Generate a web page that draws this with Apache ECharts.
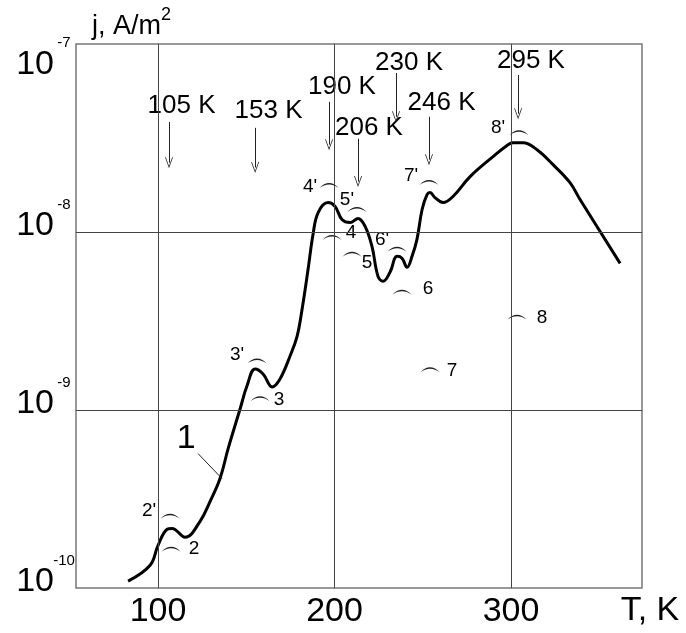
<!DOCTYPE html>
<html>
<head>
<meta charset="utf-8">
<script src="https://cdn.jsdelivr.net/npm/echarts@6/dist/echarts.min.js"></script>
<style>
html, body { margin: 0; padding: 0; background: #fff; }
#chart { width: 686px; height: 633px; }
</style>
</head>
<body>
<div id="chart"></div>
<script>
// curve 1: temperature T (K) and lg j (j in A/m2)
var tempK = [83.0, 95.5, 100, 105.1, 107.9, 115.3, 123.8, 129.5, 135.1, 139.7,
  146.5, 150.4, 155.0, 159.5, 164.6, 169.1, 174.8, 178.8, 181.6, 185.0,
  187.8, 190.7, 196.3, 200.3, 204.2, 208.8, 213.3, 217.3, 221.2, 224.6,
  227.5, 231.4, 235.4, 238.2, 241.1, 243.9, 246.7, 249.6, 252.4, 254.1,
  256.9, 261.5, 267.1, 276.8, 289.8, 298.3, 301.1, 306.8, 314.7, 323.8,
  333.4, 339.1, 361.8];
var logJ = [-9.961, -9.872, -9.760, -9.670, -9.665, -9.715, -9.625, -9.513, -9.385, -9.217,
  -8.993, -8.864, -8.769, -8.797, -8.870, -8.825, -8.696, -8.584, -8.433, -8.209,
  -8.013, -7.890, -7.834, -7.856, -7.929, -7.946, -7.923, -7.968, -8.080, -8.248,
  -8.276, -8.226, -8.136, -8.147, -8.198, -8.136, -8.041, -7.873, -7.789, -7.778,
  -7.806, -7.834, -7.800, -7.688, -7.576, -7.509, -7.498, -7.498, -7.537, -7.621,
  -7.722, -7.817, -8.176];

var xTicks = [100, 200, 300];
var yTicks = [-10, -9, -8, -7];

// peak temperatures with their arrows
var peakNames = ['105 K', '153 K', '190 K', '206 K', '230 K', '246 K', '295 K'];
var arrowX = [106.2, 155.0, 196.9, 213.3, 234.8, 253.5, 304.0];
var arrowTop = [-7.381, -7.414, -7.268, -7.475, -7.106, -7.352, -7.117];
var arrowEnd = [-7.610, -7.637, -7.509, -7.716, -7.352, -7.593, -7.335];
var nameX = [113.3, 162.6, 204.2, 219.5, 242.2, 260.6, 311.3];
var nameY = [-7.293, -7.319, -7.181, -7.414, -7.050, -7.274, -7.039];

// small arcs that mark the peaks, with their numbers
var markNames = ["2'", '2', "3'", '3', "4'", '4', "5'", '5', "6'", '6', "7'", '7', "8'", '8'];
var markX = [106.8, 107.4, 156.1, 157.8, 196.9, 198.6, 212.7, 209.9, 235.4, 238.2, 253.5, 254.1, 304.5, 303.4];
var markY = [-9.597, -9.782, -8.724, -8.937, -7.738, -8.030, -7.873, -8.125, -8.097, -8.338, -7.722, -8.774, -7.442, -8.478];
var markDx = [-21, 23, -20, 19, -19, 19, -10, 15, -15, 26, -18, 22, -21, 25];
var markDy = [-6, 0, -6, 1, 1, -5, -10, 8, -10, -3, -7, 1, -5, 1];

var FONT = '"Liberation Sans", Arial, sans-serif';
var arcPath = 'path://M0,10 C6,0 14,0 20,10 C14,3 6,3 0,10 Z';
var arrowHead = 'path://M5,0 L10,12 L9,12 L5,2.5 L1,12 L0,12 Z';

var curve = tempK.map(function (t, i) { return [t, logJ[i]]; });

var arrows = peakNames.map(function (n, i) {
  return [
    { coord: [arrowX[i], arrowTop[i]], symbol: 'none' },
    { coord: [arrowX[i], arrowEnd[i]], symbol: arrowHead, symbolSize: [8, 11] }
  ];
});
// leader line of the label "1"
arrows.push([
  { coord: [122.7, -9.245], symbol: 'none' },
  { coord: [136.3, -9.386], symbol: 'none' }
]);

var marks = markNames.map(function (n, i) {
  return {
    name: n,
    value: [markX[i], markY[i]],
    label: { offset: [markDx[i], markDy[i]] }
  };
});

var names = peakNames.map(function (n, i) {
  return { name: n, value: [nameX[i], nameY[i]] };
});
names.push({ name: '1', value: [115.9, -9.162], label: { fontSize: 34 } });

var grids = xTicks.map(function (v) { return { xAxis: v }; })
  .concat([{ yAxis: -9 }, { yAxis: -8 }]);

var isTick = function (v, list) {
  for (var i = 0; i < list.length; i++) {
    if (Math.abs(v - list[i]) < 1e-6) return true;
  }
  return false;
};

var chart = echarts.init(document.getElementById('chart'));
chart.setOption({
  animation: false,
  textStyle: { fontFamily: FONT, color: '#000' },
  grid: {
    left: 76, right: 44, top: 44, bottom: 45,
    show: true, borderColor: '#777', borderWidth: 1.5
  },
  xAxis: {
    type: 'value',
    min: 53.5,
    max: 374.2,
    splitNumber: 3,
    name: 'T, K',
    nameLocation: 'end',
    nameGap: 8,
    nameTextStyle: { fontSize: 34, color: '#000', align: 'center', verticalAlign: 'top', padding: [6, 0, 0, 0] },
    axisLine: { show: false },
    axisTick: { show: false },
    splitLine: { show: false },
    axisLabel: {
      fontSize: 34,
      color: '#000',
      margin: 7,
      formatter: function (v) { return isTick(v, xTicks) ? String(Math.round(v)) : ''; }
    }
  },
  yAxis: {
    type: 'value',
    min: -10,
    max: -6.943,
    interval: 1,
    name: '{a|j, A/m}{s|2}',
    nameLocation: 'end',
    nameGap: 4,
    nameTextStyle: {
      align: 'left',
      padding: [0, 0, 0, 16],
      rich: {
        a: { fontSize: 27, lineHeight: 34, verticalAlign: 'bottom', color: '#000', fontFamily: FONT },
        s: { fontSize: 18, verticalAlign: 'top', color: '#000', fontFamily: FONT }
      }
    },
    axisLine: { show: false },
    axisTick: { show: false },
    splitLine: { show: false },
    axisLabel: {
      margin: 2,
      formatter: function (v) {
        if (!isTick(v, yTicks)) return '';
        var p = Math.round(v);
        if (p === -7) return '{e| }\n{b|10}{s|' + p + '}';
        return '{b|10}{s|' + p + '}\n{f| }';
      },
      rich: {
        b: { fontSize: 34, lineHeight: 46, verticalAlign: 'bottom', color: '#000', fontFamily: FONT },
        s: { fontSize: 15, width: 20, align: 'left', verticalAlign: 'top', color: '#000', fontFamily: FONT },
        e: { fontSize: 8, lineHeight: 8 },
        f: { fontSize: 8, lineHeight: 24 }
      }
    }
  },
  series: [
    {
      type: 'scatter',
      name: 'marks',
      z: 1,
      data: marks,
      symbol: arcPath,
      symbolSize: [19, 5],
      itemStyle: { color: '#222', opacity: 1 },
      label: {
        show: true,
        position: 'inside',
        formatter: '{b}',
        fontSize: 19,
        color: '#000',
        fontFamily: FONT
      },
      markLine: {
        silent: true,
        symbol: 'none',
        label: { show: false },
        lineStyle: { color: '#444', width: 1, type: 'solid' },
        data: grids
      }
    },
    {
      type: 'line',
      name: '1',
      z: 3,
      data: curve,
      smooth: 0.4,
      showSymbol: false,
      lineStyle: { color: '#000', width: 3 },
      markLine: {
        silent: true,
        label: { show: false },
        lineStyle: { color: '#222', width: 1, type: 'solid' },
        data: arrows
      }
    },
    {
      type: 'scatter',
      name: 'peaks',
      z: 4,
      data: names,
      symbolSize: 0,
      itemStyle: { opacity: 1 },
      label: {
        show: true,
        position: 'inside',
        formatter: '{b}',
        fontSize: 26,
        color: '#000',
        fontFamily: FONT
      }
    }
  ]
});
</script>
</body>
</html>
